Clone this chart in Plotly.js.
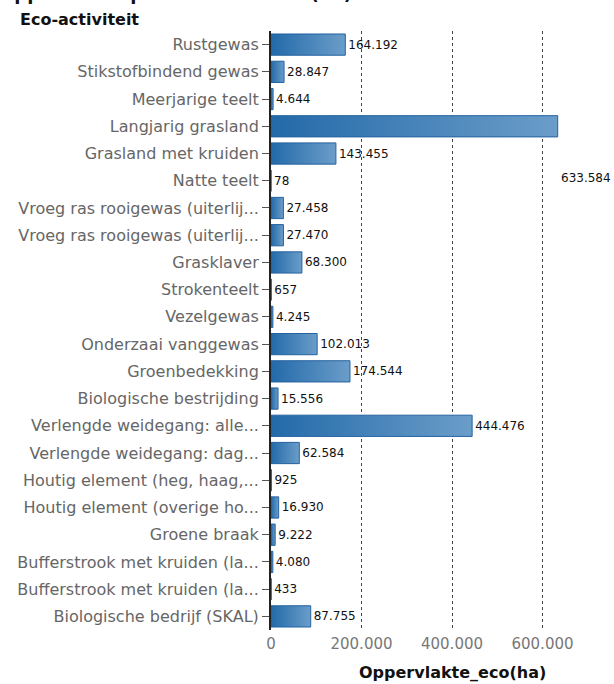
<!DOCTYPE html>
<html>
<head>
<meta charset="utf-8">
<script src="https://cdn.plot.ly/plotly-3.0.1.min.js"></script>
<style>
  html, body { margin: 0; padding: 0; background: #fff; }
  #chart { width: 614px; height: 684px; }
</style>
</head>
<body>
<div id="chart"></div>
<script>
// ---- data ----
const categories = [
  "Rustgewas",
  "Stikstofbindend gewas",
  "Meerjarige teelt",
  "Langjarig grasland",
  "Grasland met kruiden",
  "Natte teelt",
  "Vroeg ras rooigewas (uiterlij...",
  "Vroeg ras rooigewas (uiterlij...",
  "Grasklaver",
  "Strokenteelt",
  "Vezelgewas",
  "Onderzaai vanggewas",
  "Groenbedekking",
  "Biologische bestrijding",
  "Verlengde weidegang: alle...",
  "Verlengde weidegang: dag...",
  "Houtig element (heg, haag,...",
  "Houtig element (overige ho...",
  "Groene braak",
  "Bufferstrook met kruiden (la...",
  "Bufferstrook met kruiden (la...",
  "Biologische bedrijf (SKAL)"
];
const areaHa = [
  164192, 28847, 4644, 633584, 143455, 78, 27458, 27470, 68300, 657, 4245,
  102013, 174544, 15556, 444476, 62584, 925, 16930, 9222, 4080, 433, 87755
];
const xTicks = [0, 200000, 400000, 600000];
const chartTitle = "Oppervlakte per eco-activiteit (ha)";
const yTitle = "Eco-activiteit";
const xTitle = "Oppervlakte_eco(ha)";
const displacedLabelRow = "Natte teelt";

// ---- build ----
const idx = categories.map((_, i) => i);
const maxI = areaHa.indexOf(Math.max(...areaHa));
const textPos = areaHa.map((v, i) => i === maxI ? "none" : "outside");
const fmt = v => String(v).replace(/\B(?=(\d{3})+(?!\d))/g, ".");

const font = "DejaVu Sans, Verdana, sans-serif";

const trace = {
  type: "bar",
  orientation: "h",
  x: areaHa,
  y: idx,
  marker: { color: "#4580bb", line: { color: "#2462a0", width: 1 } },
  texttemplate: "%{x:,}",
  textposition: textPos,
  cliponaxis: false,
  textfont: { family: font, size: 12, color: "#111" },
  hoverinfo: "none"
};

const layout = {
  width: 614,
  height: 684,
  separators: ",.",
  margin: { l: 271, r: 0, t: 31, b: 54 },
  paper_bgcolor: "#fff",
  plot_bgcolor: "#fff",
  bargap: 0.22,
  showlegend: false,
  font: { family: font },
  xaxis: {
    range: [0, 758000],
    tickvals: xTicks,
    tickformat: ",",
    showgrid: true,
    gridcolor: "#444",
    griddash: "dot",
    gridwidth: 1,
    zeroline: false,
    showline: false,
    ticks: "",
    ticklabelstandoff: 3,
    tickfont: { family: font, size: 15, color: "#777" },
    fixedrange: true
  },
  yaxis: {
    autorange: "reversed",
    tickvals: idx,
    ticktext: categories,
    showgrid: false,
    zeroline: false,
    showline: true,
    linecolor: "#222",
    linewidth: 2,
    ticks: "outside",
    ticklen: 7,
    tickcolor: "#555",
    tickwidth: 1,
    tickfont: { family: font, size: 16, color: "#666" },
    fixedrange: true
  },
  annotations: [
    {
      text: "<b>" + chartTitle + "</b>",
      xref: "paper", yref: "paper",
      x: 0, y: 1, xshift: -274, yshift: 25,
      xanchor: "left", yanchor: "bottom",
      showarrow: false,
      font: { family: font, size: 18, color: "#111" }
    },
    {
      text: "<b>" + yTitle + "</b>",
      xref: "paper", yref: "paper",
      x: 0, y: 1, xshift: -253, yshift: 12,
      xanchor: "left", yanchor: "middle",
      showarrow: false,
      font: { family: font, size: 16, color: "#111" }
    },
    {
      text: "<b>" + xTitle + "</b>",
      xref: "paper", yref: "paper",
      x: 0.5306, y: 0, yshift: -42,
      xanchor: "center", yanchor: "middle",
      showarrow: false,
      font: { family: font, size: 16, color: "#111" }
    },
    {
      text: fmt(areaHa[maxI]),
      xref: "x", yref: "y",
      x: areaHa[maxI], y: categories.indexOf(displacedLabelRow),
      xanchor: "left", yanchor: "middle",
      xshift: 1, yshift: 3,
      showarrow: false,
      font: { family: font, size: 12, color: "#111" }
    }
  ]
};

Plotly.newPlot("chart", [trace], layout, { displayModeBar: false, staticPlot: true }).then(gd => {
  // horizontal gradient fill on each bar (dark blue -> lighter blue)
  const svg = gd.querySelector(".main-svg");
  const NS = "http://www.w3.org/2000/svg";
  let defs = svg.querySelector("defs");
  if (!defs) { defs = document.createElementNS(NS, "defs"); svg.insertBefore(defs, svg.firstChild); }
  const g = document.createElementNS(NS, "linearGradient");
  g.setAttribute("id", "barGrad");
  g.setAttribute("x1", "0"); g.setAttribute("y1", "0");
  g.setAttribute("x2", "1"); g.setAttribute("y2", "0");
  [["0", "#236aa9"], ["1", "#6b9dc9"]].forEach(([o, c]) => {
    const s = document.createElementNS(NS, "stop");
    s.setAttribute("offset", o); s.setAttribute("stop-color", c);
    g.appendChild(s);
  });
  defs.appendChild(g);
  gd.querySelectorAll(".trace.bars .point path").forEach(p => {
    p.style.fill = "url(#barGrad)";
  });
});
</script>
</body>
</html>
